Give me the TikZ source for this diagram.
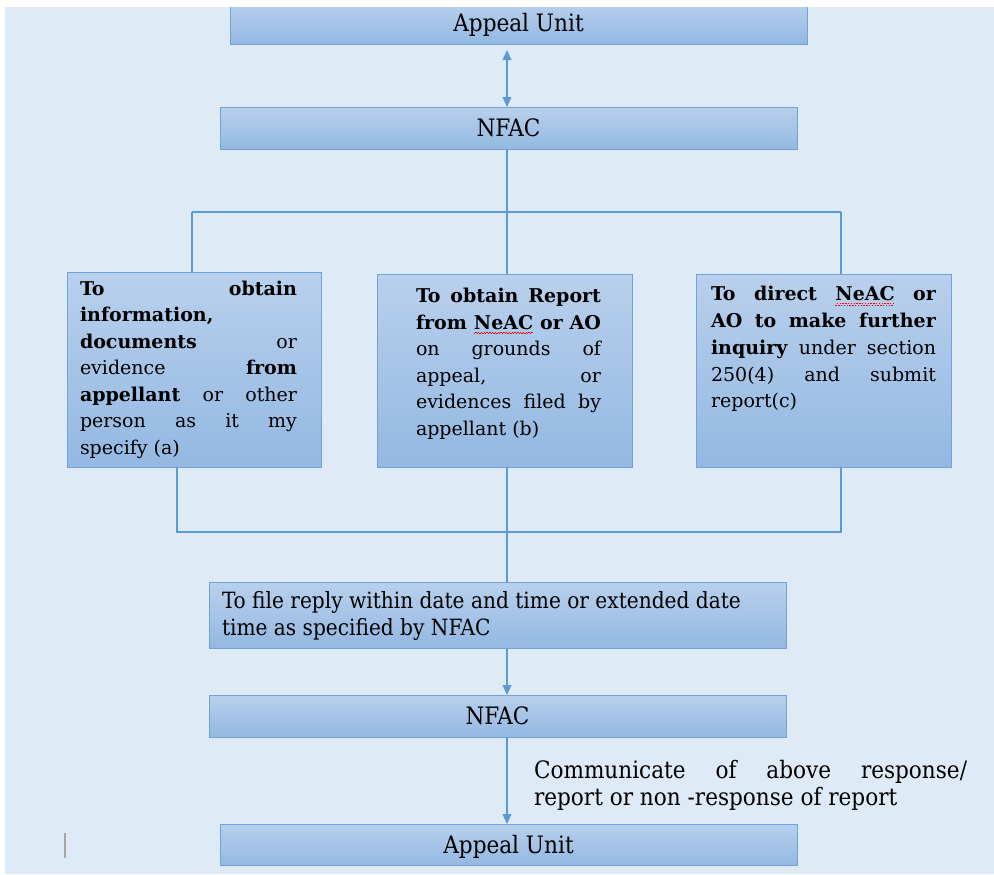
\documentclass[tikz,border=0pt]{standalone}
\usepackage{fontspec}
\setmainfont{DejaVu Serif}
\newfontfamily\condfont{DejaVu Serif Condensed}
\usetikzlibrary{arrows.meta}
\newcommand\jline[1]{\hbox to\hsize{#1}}
\newcommand\fline[1]{\hbox{#1}}
\newcommand\wsp{\hskip .3em plus 1fill\relax}
\newcommand\wv[1]{\setbox0\hbox{#1}\rlap{\hbox to\wd0{\leaders\hbox{\textcolor{red}{\rule[-2.5pt]{0.7pt}{0.45pt}\rule[-1.8pt]{0.7pt}{0.45pt}}}\hfill}}\box0}
\definecolor{bg}{HTML}{DEEAF6}
\definecolor{boxtop}{HTML}{B8D0EC}
\definecolor{boxbot}{HTML}{94B8E2}
\definecolor{boxline}{HTML}{6FA3DB}
\definecolor{connc}{HTML}{5B9BD5}
\tikzset{
  box/.style={draw=boxline, line width=0.5pt, top color=boxtop, bottom color=boxbot, inner sep=0pt, outer sep=0pt},
  onebox/.style={box, minimum width=288.5pt, font=\condfont\fontsize{12}{14}\selectfont, text height=8.6pt, text depth=0pt},
  conn/.style={draw=connc, line width=0.65pt},
  tip/.tip={Triangle[width=4.4pt, length=5pt]},
  txt/.style={anchor=base west, inner sep=0pt, outer sep=0pt}
}
\begin{document}
\begin{tikzpicture}[x=0.5pt, y=-0.5pt]
\useasboundingbox (0,0) rectangle (994,874);
\fill[white] (0,0) rectangle (994,874);
\fill[bg] (5,7) rectangle (994,874);

% junction coordinates
\coordinate (jt) at (507,212);
\coordinate (jtl) at (192,212);
\coordinate (jtr) at (841,212);
\coordinate (jb) at (507,532);
\coordinate (jbl) at (177,532);
\coordinate (jbr) at (841,532);

% boxes
\node[onebox, minimum height=21pt] (au1) at (518.5,23) {Appeal Unit};
\node[onebox, minimum height=21pt] (nfac1) at (508.5,128) {NFAC};
\node[box, minimum width=127pt, minimum height=97.5pt] (boxa) at (194,369.5) {};
\node[box, minimum width=127.5pt, minimum height=96.5pt] (boxb) at (504.5,370.5) {};
\node[box, minimum width=127.5pt, minimum height=96.5pt] (boxc) at (823.5,370.5) {};

% connectors
\draw[conn, tip-tip, shorten <=3pt] (au1.south -| jt) -- (nfac1.north -| jt);
\draw[conn] (nfac1.south -| jt) -- (jt);
\draw[conn] (jtl) -- (jtr);
\draw[conn] (jtl) -- (jtl |- boxa.north);
\draw[conn] (jt) -- (jt |- boxb.north);
\draw[conn] (jtr) -- (jtr |- boxc.north);
\draw[conn] (boxa.south -| jbl) -- (jbl) -- (jbr) -- (boxc.south -| jbr);
\coordinate (n2top) at (507,695);
\draw[conn, -tip] (boxb.south -| jb) -- (n2top);

\node[box, minimum width=288.5pt, minimum height=33pt] (reply) at (497.5,615) {};
\node[onebox, minimum height=21pt] (nfac2) at (497.5,716) {NFAC};
\node[onebox, minimum height=20.5pt] (au2) at (508.5,844.5) {Appeal Unit};
\draw[conn, -tip] (nfac2.south -| jb) -- (au2.north -| jb);

% texts of the three boxes
\node[txt] (ta) at (80,295) {\vtop{\hsize=108.5pt \fontsize{9.5}{13.28}\selectfont
\jline{\textbf{To}\wsp\textbf{obtain}}
\fline{\textbf{information,}}
\jline{\textbf{documents}\wsp or}
\jline{evidence\wsp\textbf{from}}
\jline{\textbf{appellant}\wsp or\wsp other}
\jline{person\wsp as\wsp it\wsp my}
\fline{specify (a)}}};

\node[txt] (tb) at (416,302.7) {\vtop{\hsize=92.5pt \fontsize{9.5}{13.25}\selectfont
\jline{\textbf{To\wsp obtain\wsp Report}}
\jline{\textbf{from\wsp\wv{NeAC}\wsp or\wsp AO}}
\jline{on\wsp grounds\wsp of}
\jline{appeal,\wsp or}
\jline{evidences\wsp filed\wsp by}
\fline{appellant (b)}}};

\node[txt] (tc) at (711,300.7) {\vtop{\hsize=112.5pt \fontsize{9.5}{13.4}\selectfont
\jline{\textbf{To\wsp direct\wsp\wv{NeAC}\wsp or}}
\jline{\textbf{AO\wsp to\wsp make\wsp further}}
\jline{\textbf{inquiry}\wsp under\wsp section}
\jline{250(4)\wsp and\wsp submit}
\fline{report(c)}}};

\node[txt] (tr) at (222,608) {\vtop{\hsize=280pt \condfont\fontsize{11.2}{13.75}\selectfont
\fline{To file reply within date and time or extended date}
\fline{time as specified by NFAC}}};

\node[txt] (tcom) at (534,778) {\vtop{\hsize=216.5pt \condfont\fontsize{12}{13.5}\selectfont
\jline{Communicate\wsp of\wsp above\wsp response/}
\fline{report or non -response of report}}};

% top white strip and caret mark
\fill[white] (0,0) rectangle (994,7);
\draw[line width=1pt, color=black!35] (65,833) -- (65,858);
\end{tikzpicture}
\end{document}
